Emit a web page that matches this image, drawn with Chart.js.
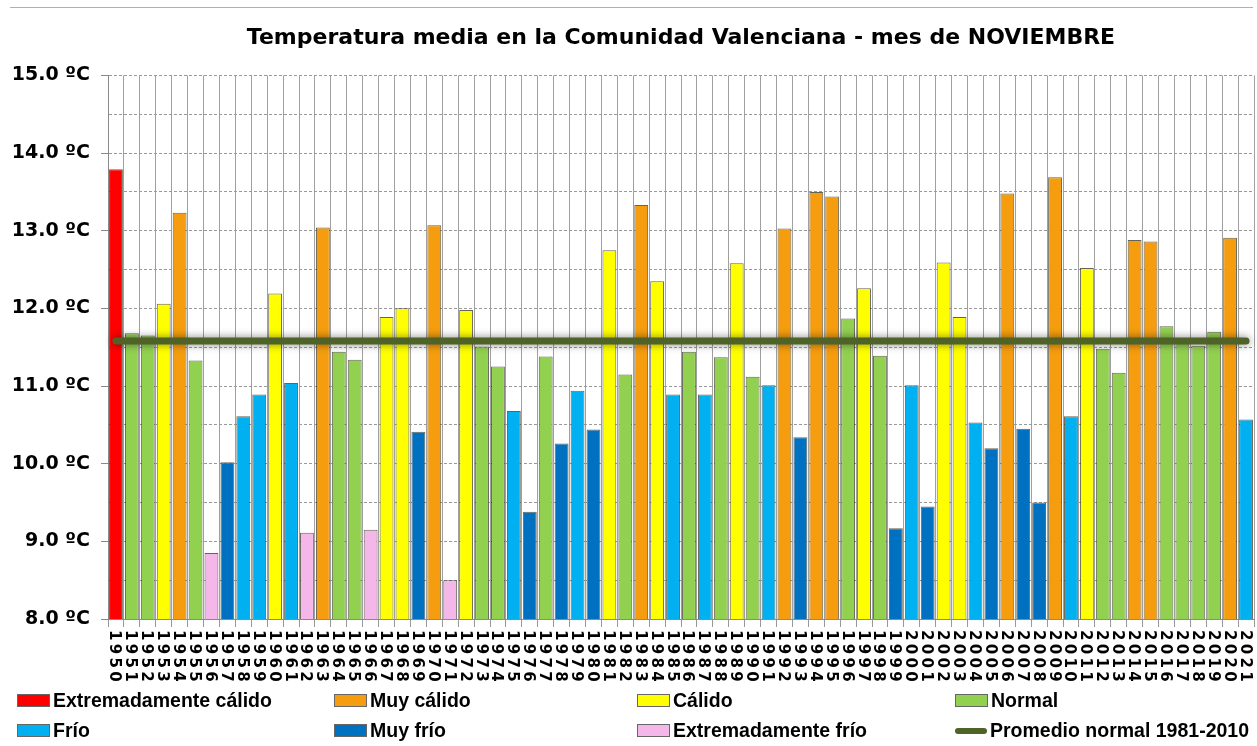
<!DOCTYPE html>
<html><head><meta charset="utf-8">
<script src="https://cdn.jsdelivr.net/npm/chart.js@4/dist/chart.umd.min.js"></script>
<style>
html,body{margin:0;padding:0;background:#fff;}
#wrap{position:relative;width:1257px;height:746px;overflow:hidden;background:#fff;}
#frame{position:absolute;left:10px;top:7px;width:1243px;height:1px;background:#b0b0b0;}
canvas{position:absolute;left:0;top:0;}
.leg{position:absolute;font:bold 19.5px "Liberation Sans",Arial,sans-serif;color:#000;white-space:nowrap;line-height:22px;height:22px;}
.leg .box{display:inline-block;width:31px;height:11px;border:1px solid #666;vertical-align:middle;margin-right:3px;position:relative;top:-1px;}
.leg .ln{display:inline-block;width:32px;height:6px;border-radius:3px;vertical-align:middle;margin-right:3px;position:relative;top:-1px;}
</style></head>
<body><div id="wrap"><div id="frame"></div><canvas id="c" width="1257" height="746"></canvas></div>
<script>
const years = [1950,1951,1952,1953,1954,1955,1956,1957,1958,1959,1960,1961,1962,1963,1964,1965,1966,1967,1968,1969,1970,1971,1972,1973,1974,1975,1976,1977,1978,1979,1980,1981,1982,1983,1984,1985,1986,1987,1988,1989,1990,1991,1992,1993,1994,1995,1996,1997,1998,1999,2000,2001,2002,2003,2004,2005,2006,2007,2008,2009,2010,2011,2012,2013,2014,2015,2016,2017,2018,2019,2020,2021];
const temps = [13.79,11.68,11.65,12.06,13.23,11.33,8.85,10.02,10.61,10.89,12.19,11.04,9.11,13.04,11.44,11.34,9.15,11.89,12.00,10.41,13.07,8.50,11.98,11.51,11.25,10.68,9.38,11.38,10.26,10.94,10.44,12.75,11.15,13.33,12.35,10.89,11.44,10.89,11.37,12.58,11.12,11.01,13.03,10.34,13.50,13.44,11.87,12.26,11.39,9.17,11.01,9.45,12.59,11.89,10.53,10.20,13.48,10.45,9.50,13.69,10.61,12.52,11.48,11.17,12.88,12.86,11.77,11.60,11.52,11.70,12.91,10.57];
// 0 Extremadamente cálido, 1 Muy cálido, 2 Cálido, 3 Normal, 4 Frío, 5 Muy frío, 6 Extremadamente frío
const classes = [0,3,3,2,1,3,6,5,4,4,2,4,6,1,3,3,6,2,2,5,1,6,2,3,3,4,5,3,5,4,5,2,3,1,2,4,3,4,3,2,3,4,1,5,1,1,3,2,3,5,4,5,2,2,4,5,1,5,5,1,4,2,3,3,1,1,3,3,3,3,1,4];
const categories = ['Extremadamente cálido','Muy cálido','Cálido','Normal','Frío','Muy frío','Extremadamente frío'];
const catColors = ['#ff0000','#f59d0e','#ffff00','#92d050','#00b0f0','#0070c0','#f5b7ea'];
const normalLabel = 'Promedio normal 1981-2010';
const normalValue = 11.58;
const normalColor = '#4f6228';
const yTicks = [8,9,10,11,12,13,14,15];

const datasets = categories.map((name, k) => ({
  type: 'bar',
  label: name,
  data: temps.map((v, i) => classes[i] === k ? v : null),
  backgroundColor: catColors[k],
  borderColor: 'rgba(50,50,30,0.75)',
  borderWidth: 1,
  grouped: false,
  barPercentage: 0.87,
  categoryPercentage: 1.0,
  order: 2
}));
datasets.push({
  type: 'line',
  label: normalLabel,
  data: years.map(() => normalValue),
  borderColor: normalColor,
  borderWidth: 7,
  borderCapStyle: 'round',
  pointRadius: 0,
  fill: false,
  order: 0
});

const lineShadow = {
  id: 'lineShadow',
  beforeDatasetDraw(chart, args) {
    if (chart.data.datasets[args.index].type === 'line') {
      const c = chart.ctx; c.save();
      c.shadowColor = 'rgba(0,0,0,0.5)'; c.shadowBlur = 9; c.shadowOffsetX = 0; c.shadowOffsetY = 0;
    }
  },
  afterDatasetDraw(chart, args) {
    if (chart.data.datasets[args.index].type === 'line') chart.ctx.restore();
  }
};

const xLabels = {
  id: 'xLabels',
  afterDraw(chart) {
    const c = chart.ctx, xs = chart.scales.x, y0 = chart.chartArea.bottom + 11;
    c.save();
    c.font = 'bold 15px "DejaVu Sans"';
    c.fillStyle = '#000';
    c.textAlign = 'left';
    c.textBaseline = 'alphabetic';
    if ('letterSpacing' in c) c.letterSpacing = '3.3px';
    years.forEach((yr, i) => {
      const x = xs.getPixelForTick(i);
      c.save(); c.translate(x, y0); c.rotate(Math.PI / 2);
      c.fillText(String(yr), 0, 5.5);
      c.restore();
    });
    c.restore();
  }
};

new Chart(document.getElementById('c'), {
  data: { labels: years.map(String), datasets },
  options: {
    responsive: false,
    animation: false,
    devicePixelRatio: 1,
    layout: { padding: { left: 0, right: 3, top: 0, bottom: 57 } },
    plugins: {
      legend: { display: false },
      tooltip: { enabled: false },
      title: {
        display: true,
        fullSize: false,
        text: 'Temperatura media en la Comunidad Valenciana - mes de NOVIEMBRE',
        color: '#000',
        font: { family: '"DejaVu Sans"', weight: 'bold', size: 22 },
        padding: { top: 25, bottom: 24 }
      }
    },
    scales: {
      x: {
        type: 'category',
        offset: true,
        grid: { offset: true, color: '#a0a0a0', lineWidth: 1, tickLength: 8, tickColor: '#999' },
        border: { color: '#8a8a8a' },
        ticks: { display: false },
        afterFit(s) { s.height = 70; }
      },
      y: {
        min: 8, max: 15,
        ticks: {
          stepSize: 0.5,
          autoSkip: false,
          padding: 11,
          color: '#000',
          font: { family: '"DejaVu Sans"', weight: 'bold', size: 19 },
          callback: v => yTicks.includes(v) ? v.toFixed(1) + ' ºC' : ''
        },
        grid: {
          color: '#9a9a9a', lineWidth: 1, tickLength: 7,
          tickColor: ctx => (ctx.tick && yTicks.includes(ctx.tick.value)) ? '#888' : 'rgba(0,0,0,0)'
        },
        border: { color: '#8a8a8a', dash: [3, 2] },
        afterFit(s) { s.width = 108; }
      }
    }
  },
  plugins: [lineShadow, xLabels]
});

// HTML legend (2 rows x 4 columns)
const legendItems = [
  { name: categories[0], color: catColors[0] },
  { name: categories[1], color: catColors[1] },
  { name: categories[2], color: catColors[2] },
  { name: categories[3], color: catColors[3] },
  { name: categories[4], color: catColors[4] },
  { name: categories[5], color: catColors[5] },
  { name: categories[6], color: catColors[6] },
  { name: normalLabel, color: normalColor, line: true }
];
const legCols = [17, 334, 637, 955];
const legRows = [689, 719];
const wrap = document.getElementById('wrap');
legendItems.forEach((it, i) => {
  const d = document.createElement('div');
  d.className = 'leg';
  d.style.left = legCols[i % 4] + 'px';
  d.style.top = legRows[Math.floor(i / 4)] + 'px';
  const sw = document.createElement('span');
  sw.className = it.line ? 'ln' : 'box';
  sw.style.background = it.color;
  d.appendChild(sw);
  d.appendChild(document.createTextNode(it.name));
  wrap.appendChild(d);
});
</script>
</body></html>
